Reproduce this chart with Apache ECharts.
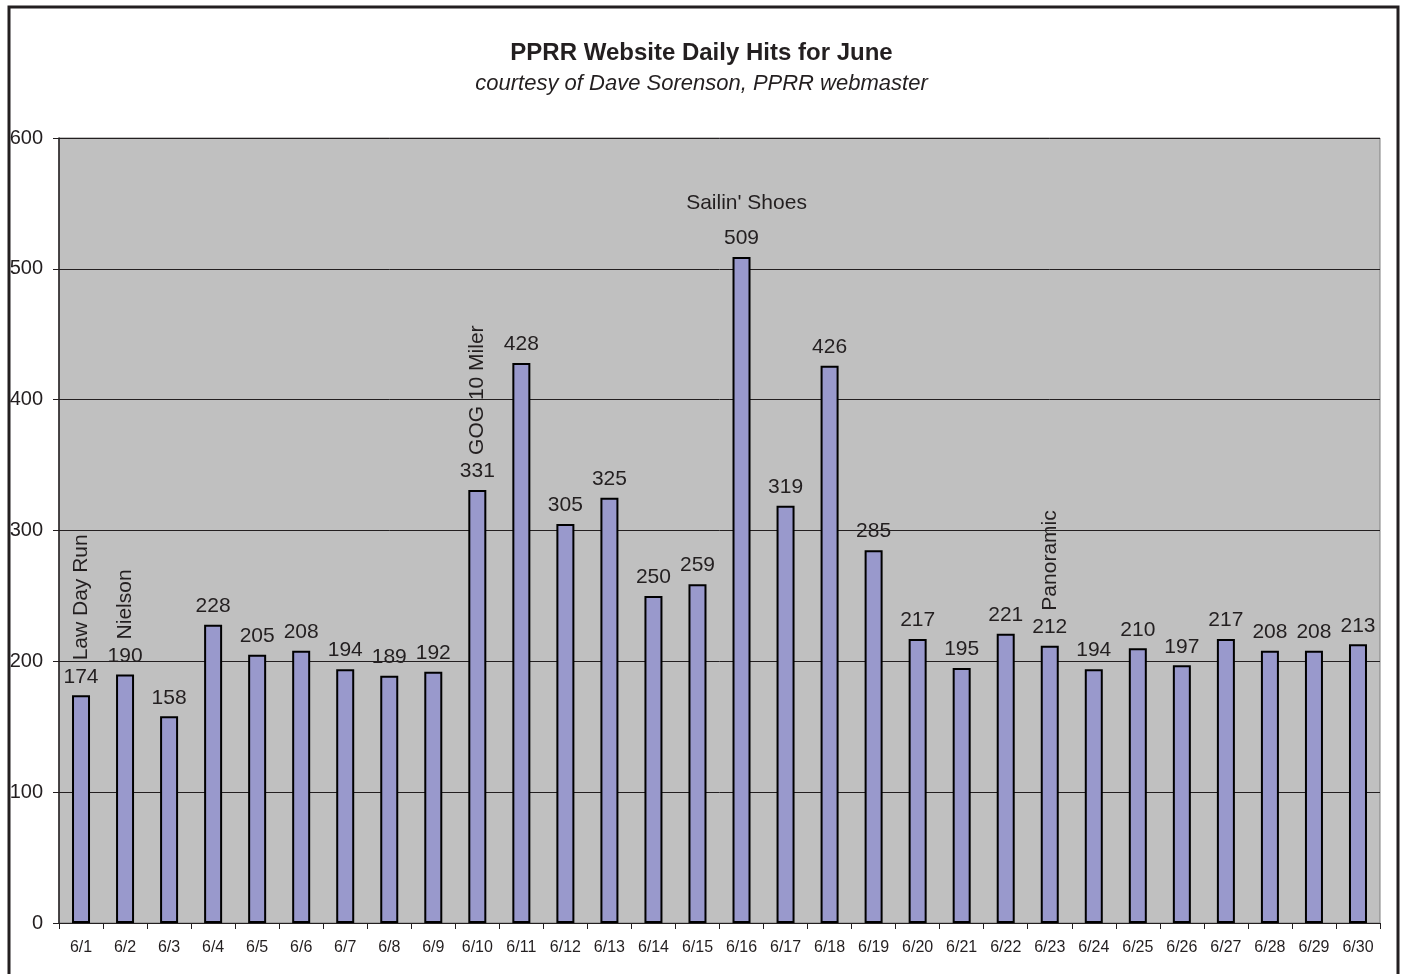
<!DOCTYPE html>
<html>
<head>
<meta charset="utf-8">
<title>PPRR Website Daily Hits for June</title>
<script src="https://cdn.jsdelivr.net/npm/echarts@6/dist/echarts.min.js"></script>
<style>
  html, body { margin: 0; padding: 0; background: #fff; }
  #chart { width: 1403px; height: 974px; }
</style>
</head>
<body>
<div id="chart"></div>
<script>
// data
const days = [
  "6/1", "6/2", "6/3", "6/4", "6/5", "6/6", "6/7", "6/8", "6/9", "6/10",
  "6/11", "6/12", "6/13", "6/14", "6/15", "6/16", "6/17", "6/18", "6/19", "6/20",
  "6/21", "6/22", "6/23", "6/24", "6/25", "6/26", "6/27", "6/28", "6/29", "6/30",
];
const hits = [
  174, 190, 158, 228, 205, 208, 194, 189, 192, 331,
  428, 305, 325, 250, 259, 509, 319, 426, 285, 217,
  195, 221, 212, 194, 210, 197, 217, 208, 208, 213,
];
const yTicks = [0, 100, 200, 300, 400, 500, 600];
// event notes written above some of the bars
const noteDays = ["6/1", "6/2", "6/10", "6/16", "6/23"];
const noteTexts = ["Law Day Run", "Nielson", "GOG 10 Miler", "Sailin' Shoes", "Panoramic"];
const noteUpright = ["6/16"]; // the one note that is not turned on its side

const fontFamily = "'Liberation Sans', Arial, sans-serif";
const ink = "#231f20";

const chart = echarts.init(document.getElementById("chart"));

// notes sit on the bar top, label pushed upward
const notes = noteDays.map((d, i) => {
  const idx = days.indexOf(d);
  const upright = noteUpright.includes(d);
  return {
    name: noteTexts[i],
    value: [d, hits[idx]],
    label: upright
      ? { position: "top", distance: 43, rotate: 0, align: "center", verticalAlign: "bottom", offset: [5, 0] }
      : { position: "top", distance: 35, rotate: 90, align: "left", verticalAlign: "middle" },
  };
});

const option = {
  animation: false,
  backgroundColor: "#fff",
  title: {
    text: "PPRR Website Daily Hits for June",
    subtext: "courtesy of Dave Sorenson, PPRR webmaster",
    left: "center",
    top: 36,
    itemGap: 8,
    textStyle: {
      fontFamily,
      fontSize: 24,
      fontWeight: "bold",
      color: ink,
    },
    subtextStyle: {
      fontFamily,
      fontSize: 22,
      fontStyle: "italic",
      color: ink,
    },
  },
  graphic: [
    {
      type: "rect",
      shape: { x: 9, y: 7, width: 1389, height: 1000 },
      style: { fill: null, stroke: ink, lineWidth: 3 },
      silent: true,
      z: 100,
    },
  ],
  grid: {
    left: 59,
    right: 23,
    top: 138,
    bottom: 51,
    show: true,
    backgroundColor: "#c0c0c0",
    borderColor: "#808080",
    borderWidth: 1,
  },
  xAxis: {
    type: "category",
    data: days,
    axisLine: { lineStyle: { color: ink, width: 1 } },
    axisTick: { show: true, length: 6, lineStyle: { color: ink } },
    axisLabel: {
      interval: 0,
      margin: 17,
      fontFamily,
      fontSize: 16,
      color: ink,
    },
  },
  yAxis: {
    type: "value",
    min: yTicks[0],
    max: yTicks[yTicks.length - 1],
    interval: yTicks[1] - yTicks[0],
    axisLine: { show: true, lineStyle: { color: ink, width: 1.5 } },
    axisTick: { show: true, length: 6, lineStyle: { color: ink } },
    axisLabel: {
      margin: 16,
      fontFamily,
      fontSize: 20,
      color: ink,
    },
    splitLine: { lineStyle: { color: ink, width: 1 } },
  },
  series: [
    {
      name: "Hits",
      type: "bar",
      data: hits,
      barWidth: 18,
      itemStyle: {
        color: "#9999cc",
        borderColor: "#000",
        borderWidth: 2,
      },
      label: {
        show: true,
        position: "top",
        distance: 8,
        fontFamily,
        fontSize: 21,
        color: ink,
      },
      z: 2,
    },
    {
      name: "Notes",
      type: "scatter",
      data: notes,
      symbolSize: 0,
      silent: true,
      itemStyle: { opacity: 1 },
      label: {
        show: true,
        formatter: (p) => p.name,
        fontFamily,
        fontSize: 21,
        color: ink,
        opacity: 1,
      },
      z: 3,
    },
  ],
};

chart.setOption(option);
</script>
</body>
</html>
